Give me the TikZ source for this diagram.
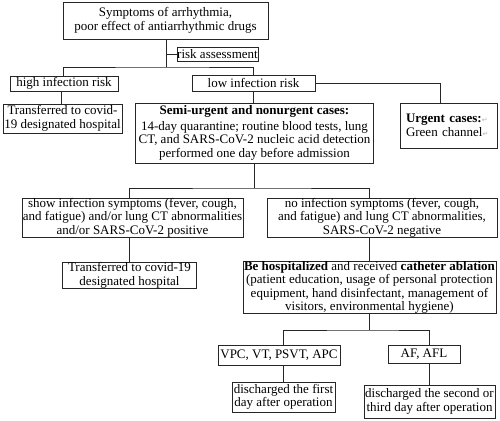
\documentclass[tikz,border=0pt]{standalone}
\usepackage{fontspec}
\setmainfont{Liberation Serif}
\newfontfamily\symfont{DejaVu Sans}
\newcommand{\pmark}{{\symfont\color{black!30}\fontsize{7}{8}\selectfont ↵}}
\begin{document}
\begin{tikzpicture}[x=1pt,y=-1pt,
  bx/.style={draw=black!85, line width=0.8pt, align=center, inner sep=0pt, font=\fontsize{13}{13.5}\selectfont},
  ln/.style={draw=black!85, line width=0.8pt}]
\useasboundingbox (0,0) rectangle (500,420);
\node[bx, minimum width=205, minimum height=37] (top) at (165.5,20.5) {Symptoms of arrhythmia,\\poor effect of antiarrhythmic drugs};
\node[bx, minimum width=81, minimum height=14] (risk) at (217.5,54) {risk assessment};
\node[bx, minimum width=108, minimum height=15] (high) at (64,83.5) {high infection risk};
\node[bx, minimum width=123, minimum height=16] (low) at (253.5,83) {low infection risk};
\node[bx, minimum width=119, minimum height=29] (trans1) at (62.5,118.5) {Transferred to covid-\\19 designated hospital};
\node[bx, minimum width=238, minimum height=60] (semi) at (254.5,133) {\textbf{Semi-urgent and nonurgent cases:}\\[2pt]14-day quarantine; routine blood tests, lung\\CT, and SARS-CoV-2 nucleic acid detection\\performed one day before admission};
\node[bx, minimum width=97, minimum height=45, align=left, text width=85] (urgent) at (448.5,125.5) {\textbf{Urgent cases:}\pmark\\Green channel\pmark};
\node[bx, minimum width=221, minimum height=39] (showinf) at (132.5,217.5) {show infection symptoms (fever, cough,\\and fatigue) and/or lung CT abnormalities\\and/or SARS-CoV-2 positive};
\node[bx, minimum width=230, minimum height=39] (noinf) at (382,217.5) {no infection symptoms (fever, cough,\\and fatigue) and lung CT abnormalities,\\SARS-CoV-2 negative};
\node[bx, minimum width=134, minimum height=25] (trans2) at (129.5,275.5) {Transferred to covid-19\\designated hospital};
\node[bx, minimum width=253, minimum height=51] (hosp) at (369.5,287.5) {\textbf{Be hospitalized} and received \textbf{catheter ablation}\\(patient education, usage of personal protection\\equipment, hand disinfectant, management of\\visitors, environmental hygiene)};
\node[bx, minimum width=122, minimum height=20] (vpc) at (279,355) {VPC, VT, PSVT, APC};
\node[bx, minimum width=72, minimum height=18] (af) at (424,354) {AF, AFL};
\node[bx, minimum width=103, minimum height=30] (dis1) at (283.5,397) {discharged the first\\day after operation};
\node[bx, minimum width=131, minimum height=33] (dis2) at (429.5,401.5) {discharged the second or\\third day after operation};
% connectors
\coordinate (j1) at (166,67);
\coordinate (j2) at (254.5,188);
\coordinate (j3) at (369.5,330);
\draw[ln] ([xshift=0.5pt]top.south) -- (j1);
\draw[ln] (j1 |- risk.west) -- (risk.west);
\draw[ln] ([xshift=-1pt]high.north) |- (j1) -| (low.north);
\draw[ln] ([xshift=-3pt]high.south) -- ([xshift=-3pt]high.south |- trans1.north);
\draw[ln] (low.south) -- (low.south |- semi.north);
\draw[ln] (low.east) -| ([xshift=-8.5pt]urgent.north);
\draw[ln] (semi.south) -- (j2);
\draw[ln] (trans2.north |- showinf.north) |- (j2) -| (hosp.north |- noinf.north);
\draw[ln] (trans2.north |- showinf.south) -- (trans2.north);
\draw[ln] (hosp.north |- noinf.south) -- (hosp.north);
\draw[ln] (hosp.south) -- (j3);
\draw[ln] (dis1.north |- vpc.north) |- (j3) -| (dis2.north |- af.north);
\draw[ln] (dis1.north |- vpc.south) -- (dis1.north);
\draw[ln] (dis2.north |- af.south) -- (dis2.north);
\end{tikzpicture}
\end{document}
